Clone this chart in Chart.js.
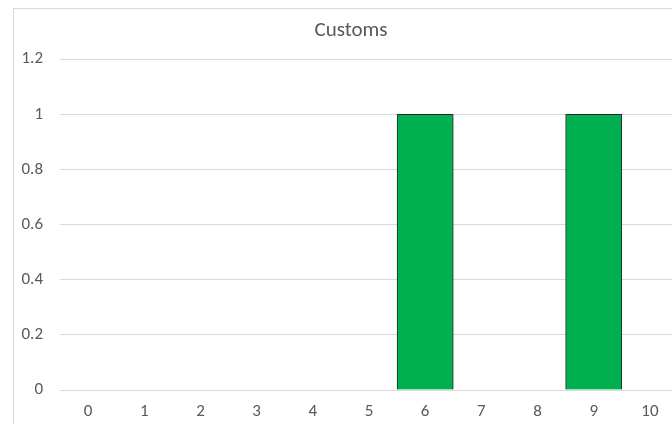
<!DOCTYPE html>
<html>
<head>
<meta charset="utf-8">
<script src="https://cdn.jsdelivr.net/npm/chart.js@4/dist/chart.umd.min.js"></script>
<style>
  html, body { margin: 0; padding: 0; background: #fff; overflow: hidden; width: 672px; height: 424px; }
  #wrap { position: absolute; left: 13px; top: 8px; width: 672px; height: 428px; border: 1px solid #d9d9d9; background: #fff; }
</style>
</head>
<body>
<div id="wrap"><canvas id="chartCanvas"></canvas></div>
<script>
const categories = ['0', '1', '2', '3', '4', '5', '6', '7', '8', '9', '10'];
const customsCounts = [0, 0, 0, 0, 0, 0, 1, 0, 0, 1, 0];
const yTicks = [0, 0.2, 0.4, 0.6, 0.8, 1, 1.2];

const fontFamily = 'Carlito, Calibri, "Open Sans", sans-serif';

// title sits centred over the whole chart box, a little right of the padded area
const titleShift = {
  id: 'titleShift',
  afterLayout(chart) {
    const t = chart.titleBlock;
    if (!t) return;
    t.left += 5;
    t.right += 5;
  }
};

const ctx = document.getElementById('chartCanvas').getContext('2d');
window.chart = new Chart(ctx, {
  type: 'bar',
  data: {
    labels: categories,
    datasets: [
      {
        label: 'Customs',
        data: customsCounts,
        backgroundColor: '#00b050',
        borderColor: '#262626',
        borderWidth: 1,
        barPercentage: 1,
        categoryPercentage: 1
      }
    ]
  },
  options: {
    responsive: true,
    maintainAspectRatio: false,
    animation: false,
    layout: { padding: { left: 0, right: 8, top: 0, bottom: 0 } },
    plugins: {
      legend: { display: false },
      tooltip: { enabled: false },
      title: {
        display: true,
        text: 'Customs',
        color: '#595959',
        font: { family: fontFamily, size: 21, weight: 'normal' },
        padding: { top: 9, bottom: 16 }
      }
    },
    scales: {
      x: {
        grid: { display: false, drawTicks: false },
        border: { display: false },
        ticks: { color: '#595959', padding: 12, font: { family: fontFamily, size: 17 } },
        afterFit: scale => { scale.height = 47; }
      },
      y: {
        min: 0,
        max: yTicks[yTicks.length - 1],
        afterBuildTicks: scale => { scale.ticks = yTicks.map(v => ({ value: v })); },
        grid: { color: '#d9d9d9', drawTicks: false },
        border: { display: false },
        ticks: {
          color: '#595959',
          padding: 17,
          font: { family: fontFamily, size: 17 },
          callback: value => String(Math.round(value * 10) / 10)
        },
        afterFit: scale => { scale.width = 46; }
      }
    }
  },
  plugins: [titleShift]
});
</script>
</body>
</html>
